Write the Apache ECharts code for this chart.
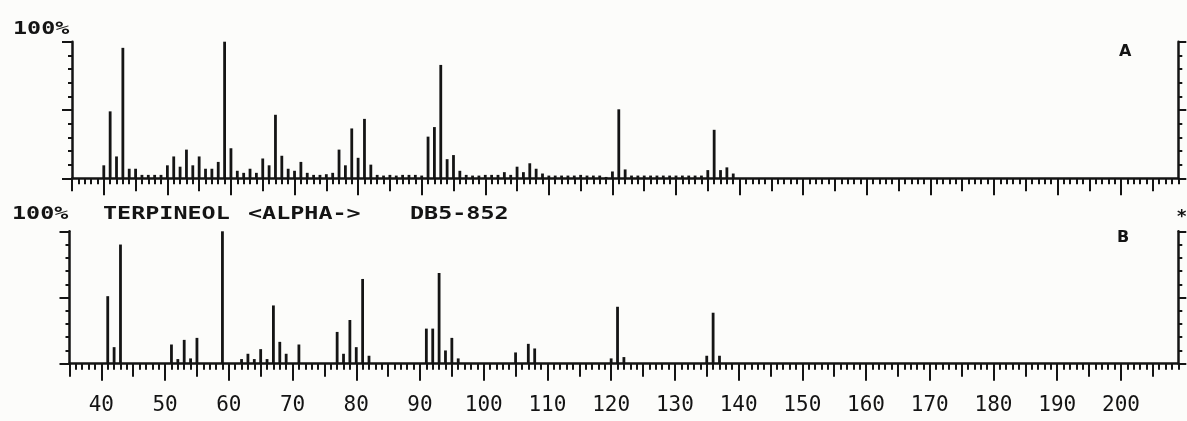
<!DOCTYPE html>
<html>
<head>
<meta charset="utf-8">
<title>TERPINEOL ALPHA DB5-852</title>
<script src="https://cdn.jsdelivr.net/npm/echarts@6/dist/echarts.min.js"></script>
<style>
  html, body { margin: 0; padding: 0; background: #fcfcfa; }
  #main { width: 1187px; height: 421px; }
</style>
</head>
<body>
<div id="main"></div>
<script>
// m/z range of the plot
var massMin = 35
var massMax = 209
// labels under the lower spectrum
var xLabels = ['40', '50', '60', '70', '80', '90', '100', '110', '120', '130', '140', '150', '160', '170', '180', '190', '200']

// spectrum A (sample), relative intensity %
var massA = [40, 41, 42, 43, 44, 45, 46, 47, 48, 49,
  50, 51, 52, 53, 54, 55, 56, 57, 58, 59,
  60, 61, 62, 63, 64, 65, 66, 67, 68, 69,
  70, 71, 72, 73, 74, 75, 76, 77, 78, 79,
  80, 81, 82, 83, 84, 85, 86, 87, 88, 89,
  90, 91, 92, 93, 94, 95, 96, 97, 98, 99,
  100, 101, 102, 103, 104, 105, 106, 107, 108, 109,
  110, 111, 112, 113, 114, 115, 116, 117, 118, 119,
  120, 121, 122, 123, 124, 125, 126, 127, 128, 129,
  130, 131, 132, 133, 134, 135, 136, 137, 138, 139]
var intA = [9.5, 49, 16, 95.5, 7, 7, 2.5, 2.5, 2.5, 2.5,
  9.5, 16, 8.5, 21, 9.5, 16, 7, 7, 12, 100,
  22, 5.5, 4, 7, 4, 14.5, 9.5, 46.5, 16.5, 7,
  5.5, 12, 4, 2.5, 2.5, 3, 4, 21, 9.5, 36.5,
  15, 43.5, 10, 2.5, 2, 2.5, 2, 2.5, 2.5, 2.5,
  2, 30.5, 37.5, 83, 14, 17, 5.5, 2.5, 2, 2,
  2.5, 2.5, 2.5, 4.5, 2.5, 8.5, 4.5, 11, 7, 3.5,
  2, 2, 2, 2, 2, 2.5, 2, 2, 2, 1,
  5, 50.5, 6.5, 2, 2, 2, 2, 2, 2, 2,
  2, 2, 2, 2, 2, 6, 35.5, 6, 8, 3.5]

// spectrum B (library: TERPINEOL <ALPHA->)
var massB = [41, 42, 43, 51, 52, 53, 54, 55, 59, 62,
  63, 64, 65, 66, 67, 68, 69, 71, 77, 78,
  79, 80, 81, 82, 91, 92, 93, 94, 95, 96,
  105, 107, 108, 120, 121, 122, 135, 136, 137]
var intB = [51, 12.5, 90, 14.5, 3.5, 18, 4, 19.5, 100, 3.5,
  7.5, 3.5, 11, 3.5, 44, 16.5, 7.5, 14.5, 24, 7.5,
  33, 12.5, 64, 6, 26.5, 26.5, 68.5, 10, 19.5, 4,
  8.5, 15, 11.5, 4, 43, 5, 6, 38.5, 6]

var ink = '#141414'
var categories = []
for (var m = massMin; m <= massMax; m++) categories.push(String(m))

// mass axis: one per tick length (every 1, 5 and 10 units)
function massAxis (grid, tickLen, every, withLine, withLabels) {
  return {
    type: 'category',
    gridIndex: grid,
    position: 'bottom',
    data: categories,
    boundaryGap: false,
    axisLine: { show: withLine, onZero: false, lineStyle: { color: ink, width: 2.5 } },
    axisTick: {
      show: true,
      length: tickLen,
      interval: function (index, value) { return Number(value) % every === 0 },
      lineStyle: { color: ink, width: 2 }
    },
    axisLabel: {
      show: withLabels,
      interval: function (index, value) { return xLabels.indexOf(value) >= 0 },
      margin: 31,
      color: ink,
      fontFamily: 'DejaVu Sans Mono',
      fontSize: 21
    },
    splitLine: { show: false }
  }
}

// intensity axis, 0-100 %
function intensityAxis (grid, side, tickLen, step, withLine) {
  return {
    type: 'value',
    gridIndex: grid,
    position: side,
    min: 0,
    max: 100,
    interval: step,
    axisLine: { show: withLine, onZero: false, lineStyle: { color: ink, width: 2.5 } },
    axisTick: { show: true, length: tickLen, lineStyle: { color: ink, width: 2 } },
    axisLabel: { show: false },
    splitLine: { show: false }
  }
}

function peaks (masses, values) {
  return masses.map(function (m, i) { return [String(m), values[i]] })
}

function label (text, x, y, font, sx) {
  return {
    type: 'text',
    x: x,
    y: y,
    scaleX: sx,
    style: { text: text, font: font, fill: ink, verticalAlign: 'top' }
  }
}

var mono = 'bold 18px "DejaVu Sans Mono"'
var myChart = echarts.init(document.getElementById('main'))
myChart.setOption({
  animation: false,
  backgroundColor: '#fcfcfa',
  grid: [
    { left: 72, right: 8.7, top: 41.7, bottom: 242.7 },
    { left: 69.5, right: 8.7, top: 231.3, bottom: 57.3 }
  ],
  xAxis: [
    massAxis(0, 6, 1, true, false),
    massAxis(0, 13, 5, false, false),
    massAxis(0, 17, 10, false, false),
    massAxis(1, 6, 1, true, false),
    massAxis(1, 13, 5, false, false),
    massAxis(1, 17, 10, false, true)
  ],
  yAxis: [
    intensityAxis(0, 'left', 4, 10, true),
    intensityAxis(0, 'left', 10, 50, false),
    intensityAxis(0, 'right', 4, 10, true),
    intensityAxis(0, 'right', 8, 50, false),
    intensityAxis(1, 'left', 4, 10, true),
    intensityAxis(1, 'left', 10, 50, false),
    intensityAxis(1, 'right', 4, 10, true),
    intensityAxis(1, 'right', 8, 50, false)
  ],
  series: [
    {
      name: 'A',
      type: 'bar',
      xAxisIndex: 0,
      yAxisIndex: 0,
      barWidth: 2.8,
      silent: true,
      itemStyle: { color: ink },
      data: peaks(massA, intA)
    },
    {
      name: 'B',
      type: 'bar',
      xAxisIndex: 3,
      yAxisIndex: 4,
      barWidth: 2.8,
      silent: true,
      itemStyle: { color: ink },
      data: peaks(massB, intB)
    }
  ],
  graphic: [
    label('100%', 13, 20, mono, 1.3),
    label('100%', 12, 205, mono, 1.3),
    label('TERPINEOL', 103, 205, mono, 1.3),
    label('<ALPHA->', 248, 205, mono, 1.3),
    label('DB5-852', 410, 205, mono, 1.3),
    label('A', 1119, 44, 'bold 16px "DejaVu Sans"', 1),
    label('B', 1117, 230, 'bold 16px "DejaVu Sans"', 1),
    label('*', 1177, 208, 'bold 18px "DejaVu Sans"', 1)
  ]
})
window.addEventListener('resize', function () {
  myChart.resize()
})
</script>
</body>
</html>
